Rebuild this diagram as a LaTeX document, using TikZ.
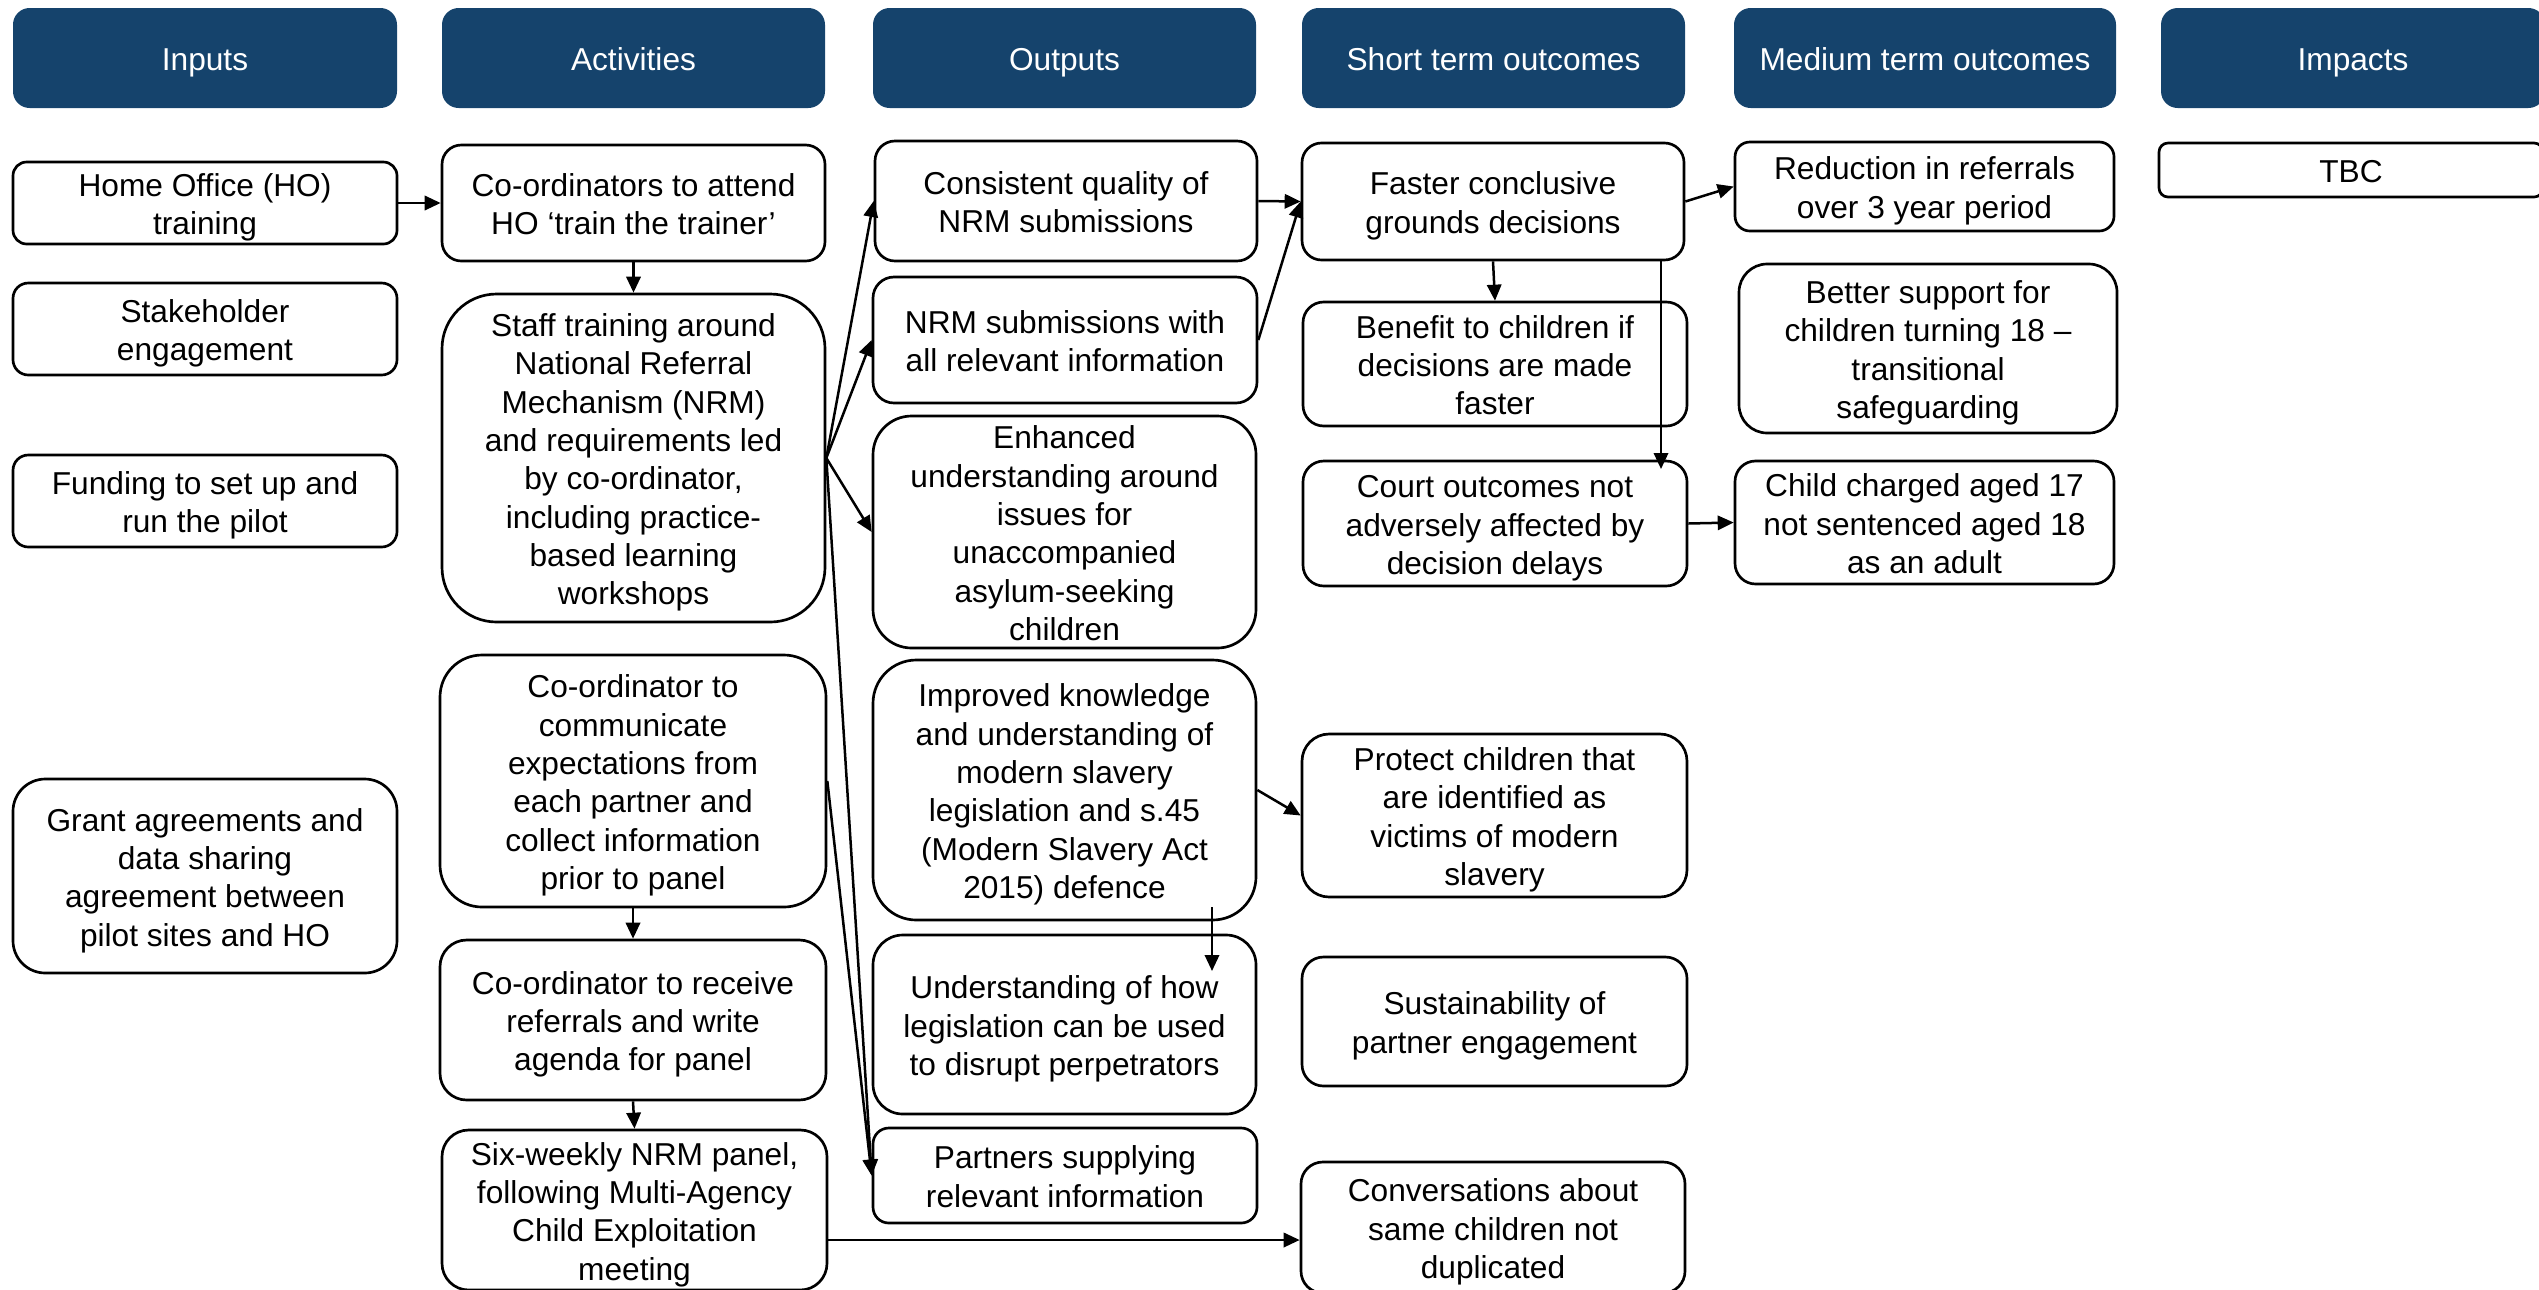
\documentclass[tikz,border=0pt]{standalone}
\usepackage{fontspec}
\setmainfont{Liberation Sans}
\usetikzlibrary{arrows.meta}
\definecolor{navy}{RGB}{21,67,108}
% invisible rules framing the text block, so it sits centred on its line boxes
\newcommand\topstrut{\rule[-0.212em]{0pt}{\dimexpr1.117em+1pt\relax}}
\newcommand\botstrut{\rule[-0.212em]{0pt}{1.117em}}
\tikzset{
  box/.style={draw=black, line width=0.8pt, fill=white, align=center, inner sep=0pt,
    font=\fontsize{9.5}{11.5}\selectfont, text=black},
  hdr/.style={box, draw=none, fill=navy, text=white},
  link/.style={line width=0.75pt, -{Triangle[length=4.8pt,width=4.3pt]}},
}
% \mkbox[style]{name}{x1}{y1}{x2}{y2}{text}: rounded box spanning the given corners
\newcommand\mkbox[7][]{%
  \pgfmathsetlengthmacro\bw{(#5-#3)*0.3pt}%
  \pgfmathsetlengthmacro\bh{(#6-#4)*0.3pt}%
  \pgfmathsetlengthmacro\br{min(#5-#3,#6-#4)*0.05pt}%
  \node[box,#1,minimum width=\bw,minimum height=\bh,rounded corners=\br] (#2)
    at ({(#3+#5)/2},{(#4+#6)/2}) {\topstrut#7\botstrut};%
}
\begin{document}
\begin{tikzpicture}[x=0.3pt,y=-0.3pt]
\useasboundingbox (0,0) rectangle (2539,1289);
\clip (0,0) rectangle (2539,1289);

% column headers
\mkbox[hdr]{hIn}{13}{8}{397}{108}{Inputs}
\mkbox[hdr]{hAct}{442}{8}{825}{108}{Activities}
\mkbox[hdr]{hOut}{873}{8}{1256}{108}{Outputs}
\mkbox[hdr]{hST}{1302}{8}{1685}{108}{Short term outcomes}
\mkbox[hdr]{hMT}{1734}{8}{2116}{108}{Medium term outcomes}
\mkbox[hdr]{hImp}{2161}{8}{2545}{108}{Impacts}

% inputs
\mkbox{ho}{13}{162}{397}{244}{Home Office (HO)\\training}
\mkbox{stake}{13}{283}{397}{375}{Stakeholder\\engagement}
\mkbox{fund}{13}{455}{397}{547}{Funding to set up and\\run the pilot}
\mkbox{grant}{13}{779}{397}{973}{Grant agreements and\\data sharing\\agreement between\\pilot sites and HO}

% activities
\mkbox{att}{442}{145}{825}{261}{Co-ordinators to attend\\HO ‘train the trainer’}
\mkbox{staff}{442}{294}{825}{622}{Staff training around\\National Referral\\Mechanism (NRM)\\and requirements led\\by co-ordinator,\\including practice-\\based learning\\workshops}
\mkbox{comm}{440}{655}{826}{907}{Co-ordinator to\\communicate\\expectations from\\each partner and\\collect information\\prior to panel}
\mkbox{recv}{440}{940}{826}{1100}{Co-ordinator to receive\\referrals and write\\agenda for panel}
\mkbox{six}{442}{1130}{827}{1290}{Six-weekly NRM panel,\\following Multi-Agency\\Child Exploitation\\meeting}

% outputs
\mkbox{cons}{875}{141}{1257}{261}{Consistent quality of\\NRM submissions}
\mkbox{nrm}{873}{277}{1257}{403}{NRM submissions with\\all relevant information}
\mkbox{enh}{873}{416}{1256}{648}{Enhanced\\understanding around\\issues for\\unaccompanied\\asylum-seeking\\children}
\mkbox{imp}{873}{660}{1256}{920}{Improved knowledge\\and understanding of\\modern slavery\\legislation and s.45\\(Modern Slavery Act\\2015) defence}
\mkbox{und}{873}{935}{1256}{1114}{Understanding of how\\legislation can be used\\to disrupt perpetrators}
\mkbox{part}{873}{1128}{1257}{1223}{Partners supplying\\relevant information}

% short term outcomes
\mkbox{fast}{1302}{143}{1684}{260}{Faster conclusive\\grounds decisions}
\mkbox{ben}{1303}{302}{1687}{426}{Benefit to children if\\decisions are made\\faster}
\mkbox{court}{1303}{461}{1687}{586}{Court outcomes not\\adversely affected by\\decision delays}
\mkbox{prot}{1302}{734}{1687}{897}{Protect children that\\are identified as\\victims of modern\\slavery}
\mkbox{sus}{1302}{957}{1687}{1086}{Sustainability of\\partner engagement}
\mkbox{conv}{1301}{1162}{1685}{1293}{Conversations about\\same children not\\duplicated}

% medium term outcomes
\mkbox{red}{1735}{142}{2114}{231}{Reduction in referrals\\over 3 year period}
\mkbox{bet}{1739}{264}{2117}{433}{Better support for\\children turning 18 –\\transitional\\safeguarding}
\mkbox{child}{1735}{461}{2114}{584}{Child charged aged 17\\not sentenced aged 18\\as an adult}

% impacts
\mkbox{tbc}{2159}{143}{2543}{197}{TBC}

% connectors
\coordinate (courtIn) at (1661,469);
\coordinate (impOut) at (1212,907);
\coordinate (undIn) at (1212,971);
\coordinate (panelRow) at (0,1240);

\draw[link] (ho.east) -- (att.west);
\draw[link] (att.south) -- (staff.north);
\draw[link] (staff.east) -- (cons.west);
\draw[link] (staff.east) -- (nrm.west);
\draw[link] (staff.east) -- (enh.west);
\draw[link] (staff.east) -- (part.west);
\draw[link] (comm.east) -- (part.west);
\draw[link] (comm.south) -- (recv.north);
\draw[link] (recv.south) -- (six.north);
\draw[link] (six.east |- panelRow) -- (conv.west |- panelRow);
\draw[link] (cons.east) -- (fast.west);
\draw[link] (nrm.east) -- (fast.west);
\draw[link] (fast.south) -- (ben.north);
\draw[link] (fast.south -| courtIn) -- (courtIn);
\draw[link] (fast.east) -- (red.west);
\draw[link] (court.east) -- (child.west);
\draw[link] (imp.east) -- (prot.west);
\draw[link] (impOut) -- (undIn);
\end{tikzpicture}
\end{document}
